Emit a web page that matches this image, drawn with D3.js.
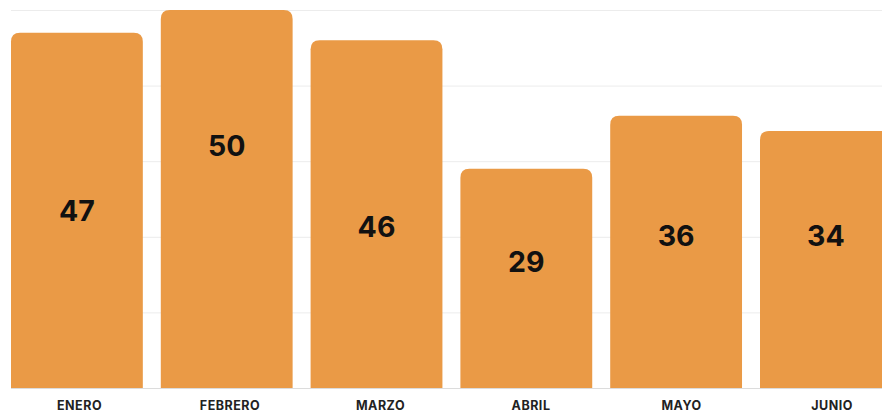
<!DOCTYPE html>
<html lang="es">
<head>
<meta charset="UTF-8">
<script src="https://d3js.org/d3.v7.min.js"></script>
<style>
  html, body { margin: 0; padding: 0; background: #fff; }
  #plot { width: 882px; height: 418px; overflow: hidden; }
</style>
</head>
<body>
<div id="plot"></div>
<script>
// data
const months = ["ENERO", "FEBRERO", "MARZO", "ABRIL", "MAYO", "JUNIO"];
const values = [47, 50, 46, 29, 36, 34];
// where each value label sits, in chart units
const labelAt = [23.5, 32.0, 21.3, 16.7, 20.1, 20.1];
const yTicks = [0, 10, 20, 30, 40, 50];

function drawBars() {
  const width = 882, height = 418;
  const left = 11, top = 10, base = 388;
  const step = 149.8, pad = 0.12;

  const svg = d3.select("#plot").append("svg")
      .attr("width", width)
      .attr("height", height);

  const x = d3.scaleBand()
      .domain(months)
      .range([left, left + step * months.length - step * pad])
      .paddingInner(pad)
      .paddingOuter(0);

  // the month labels run on a slightly wider spacing than the bars
  const xLab = d3.scalePoint()
      .domain(months)
      .range([79, 79 + 150.5 * (months.length - 1)]);

  const y = d3.scaleLinear().domain([0, 50]).range([base, top]);

  // gridlines
  svg.append("g")
    .selectAll("line")
    .data(yTicks.filter(t => t > 0))
    .join("line")
      .attr("x1", left).attr("x2", width)
      .attr("y1", d => y(d) + 0.5).attr("y2", d => y(d) + 0.5)
      .attr("stroke", "#ececec")
      .attr("stroke-width", 1);

  // bars, top corners rounded
  const r = 9;
  svg.append("g")
    .selectAll("path")
    .data(values)
    .join("path")
      .attr("fill", "#ea9a46")
      .attr("d", (d, i) => {
        const x0 = x(months[i]), w = x.bandwidth(), y0 = y(d), y1 = y(0);
        return `M${x0},${y1}V${y0 + r}Q${x0},${y0} ${x0 + r},${y0}` +
               `H${x0 + w - r}Q${x0 + w},${y0} ${x0 + w},${y0 + r}V${y1}Z`;
      });

  // baseline
  svg.append("line")
      .attr("x1", left).attr("x2", width)
      .attr("y1", y(0) + 0.5).attr("y2", y(0) + 0.5)
      .attr("stroke", "#dcdcdc");

  // value labels
  svg.append("g")
      .attr("font-family", "Inter, 'Noto Sans', sans-serif")
      .attr("font-weight", 700)
      .attr("font-size", 28.5)
      .attr("text-anchor", "middle")
      .attr("fill", "#111")
    .selectAll("text")
    .data(values)
    .join("text")
      .attr("x", (d, i) => x(months[i]) + x.bandwidth() / 2)
      .attr("y", (d, i) => y(labelAt[i]))
      .attr("dy", "0.36em")
      .text(d => d);

  // x axis labels
  const xAxis = d3.axisBottom(xLab).tickSize(0).tickPadding(13);
  const gx = svg.append("g")
      .attr("transform", `translate(0,${y(0)})`)
      .call(xAxis);
  gx.select(".domain").remove();
  gx.selectAll("text")
      .attr("font-family", "Inter, 'Noto Sans', sans-serif")
      .attr("font-weight", 700)
      .attr("font-size", 12.5)
      .attr("letter-spacing", "0.5px")
      .attr("fill", "#222");
}

drawBars();
</script>
</body>
</html>
